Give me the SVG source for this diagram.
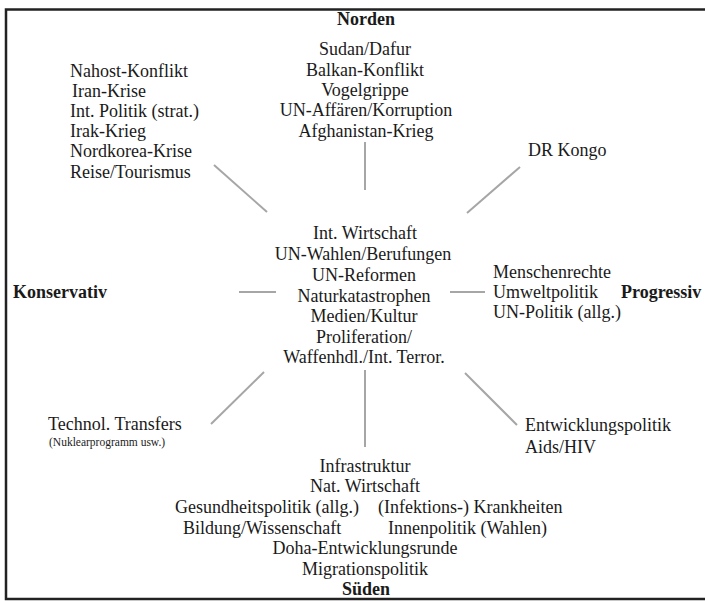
<svg xmlns="http://www.w3.org/2000/svg" width="705" height="601" viewBox="0 0 705 601">
<style>
text{font-family:"Liberation Serif","Times New Roman",serif;font-size:18px;fill:#1a1a1a}
.b{font-weight:bold}
.c{text-anchor:middle}
.s{font-size:11.5px}
.ln{stroke:#a6a6a6;stroke-width:2;fill:none}
</style>
<rect width="705" height="601" fill="#fff"/>
<path d="M705 9.5H6V599H705" fill="none" stroke="#222" stroke-width="2.5"/>
<g id="connectors">
<line class="ln" x1="365" y1="142" x2="365" y2="190"/>
<line class="ln" x1="214" y1="165" x2="267" y2="212"/>
<line class="ln" x1="520" y1="167" x2="467" y2="213"/>
<line class="ln" x1="239" y1="292" x2="276" y2="292"/>
<line class="ln" x1="450" y1="292" x2="485" y2="292"/>
<line class="ln" x1="264" y1="372" x2="211" y2="424"/>
<line class="ln" x1="365" y1="370" x2="365" y2="447"/>
<line class="ln" x1="465" y1="373" x2="517" y2="425"/>
</g>
<g id="norden"><text class="b c" x="366" y="25">Norden</text></g>
<g id="top-center">
<text class="c" x="365" y="55">Sudan/Dafur</text>
<text class="c" x="365" y="75.5">Balkan-Konflikt</text>
<text class="c" x="365" y="96">Vogelgrippe</text>
<text class="c" x="366" y="116">UN-Affären/Korruption</text>
<text class="c" x="366" y="136.5">Afghanistan-Krieg</text>
</g>
<g id="top-left">
<text x="70" y="77">Nahost-Konflikt</text>
<text x="72" y="97">Iran-Krise</text>
<text x="70" y="117">Int. Politik (strat.)</text>
<text x="70" y="137">Irak-Krieg</text>
<text x="70" y="157">Nordkorea-Krise</text>
<text x="70" y="178">Reise/Tourismus</text>
</g>
<g id="top-right"><text x="528" y="156">DR Kongo</text></g>
<g id="center">
<text class="c" x="365" y="239">Int. Wirtschaft</text>
<text class="c" x="363" y="260">UN-Wahlen/Berufungen</text>
<text class="c" x="364" y="281">UN-Reformen</text>
<text class="c" x="364" y="302">Naturkatastrophen</text>
<text class="c" x="364" y="322">Medien/Kultur</text>
<text class="c" x="364" y="343">Proliferation/</text>
<text class="c" x="364" y="363">Waffenhdl./Int. Terror.</text>
</g>
<g id="konservativ"><text class="b" x="13" y="298">Konservativ</text></g>
<g id="right"><text x="493" y="278">Menschenrechte</text>
<text x="493" y="298">Umweltpolitik</text>
<text x="493" y="318">UN-Politik (allg.)</text>
</g>
<g id="progressiv"><text class="b" x="621" y="298">Progressiv</text></g>
<g id="bottom-left"><text x="48" y="430">Technol. Transfers</text>
<text class="s" x="49" y="446">(Nuklearprogramm usw.)</text>
</g>
<g id="bottom-right"><text x="525" y="431">Entwicklungspolitik</text>
<text x="525" y="453">Aids/HIV</text>
</g>
<g id="bottom-center">
<text class="c" x="365" y="472">Infrastruktur</text>
<text class="c" x="365" y="492">Nat. Wirtschaft</text>
<text x="175" y="513">Gesundheitspolitik (allg.)</text>
<text x="378" y="513">(Infektions-) Krankheiten</text>
<text x="183" y="534">Bildung/Wissenschaft</text>
<text x="388" y="534">Innenpolitik (Wahlen)</text>
<text class="c" x="365" y="554">Doha-Entwicklungsrunde</text>
<text class="c" x="365" y="575">Migrationspolitik</text>
</g>
<g id="sueden"><text class="b c" x="366" y="595">Süden</text></g>
</svg>
